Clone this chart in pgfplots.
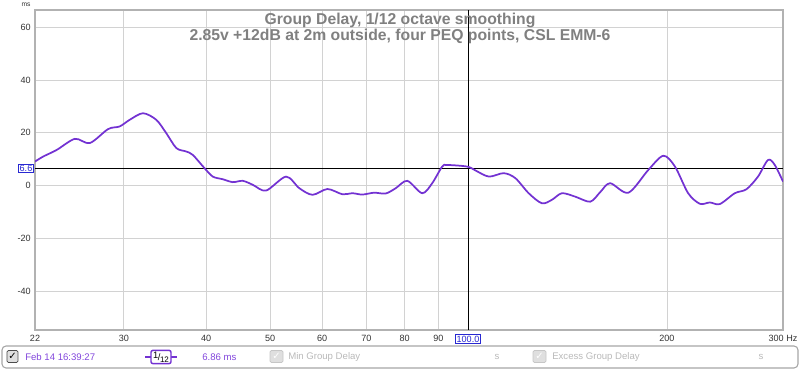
\documentclass[border=0pt]{standalone}
\usepackage{pgfplots}
\pgfplotsset{compat=1.18}
\usepackage{fontspec}
\setmainfont{Liberation Sans}
\newfontfamily\dejavu{DejaVu Sans}
\definecolor{gd}{RGB}{115,50,210}
\definecolor{legpurple}{RGB}{130,70,220}
\definecolor{curblue}{RGB}{40,40,210}
\definecolor{titlegray}{RGB}{128,128,128}
\begin{document}
\begin{tikzpicture}
\path[use as bounding box] (-26.25pt,-30pt) rectangle (573.75pt,247.5pt);
\begin{axis}[
  at={(0,0)}, anchor=south west,
  width=561pt, height=240pt, scale only axis,
  xmode=log, xmin=22, xmax=300, ymin=-54.7, ymax=66.5,
  xtick={22,30,40,50,60,70,80,90,200,300},
  xticklabels={22,30,40,50,60,70,80,90,200,300 Hz},
  minor xtick={},
  ytick={-40,-20,0,20,40,60},
  yticklabels={-40,-20,0,20,40,60},
  grid=major,
  major grid style={draw=gray!35, line width=0.6pt},
  tick style={draw=none},
  axis line style={draw=gray!60, line width=1pt},
  ticklabel style={font=\fontsize{6.8}{7}\selectfont, text=black!80},
  xticklabel style={inner sep=0pt, yshift=-4pt},
  yticklabel style={inner sep=0pt, xshift=-3pt},
]
\draw[black, line width=0.6pt] (axis cs:100,-54.7) -- (axis cs:100,66.5);
\draw[black, line width=0.6pt] (axis cs:22,6.6) -- (axis cs:300,6.6);
\addplot[gd, line width=1.3pt, smooth, no marks] coordinates {
(22,9.1) (22.64,11.0) (23.73,13.5) (25.29,17.7) (26.64,16.1) (28.40,21.4)
(29.57,22.4) (30.62,24.9) (32.08,27.4) (33.61,24.9) (34.81,19.8) (36.05,14.2)
(37.32,12.9) (38.19,11.6) (39.77,6.6) (40.94,3.4) (42.39,2.4) (43.90,1.3)
(45.45,1.8) (47.07,0.3) (49.31,-1.9) (52.87,3.4) (55.38,-1.0) (58.00,-3.5)
(61.11,-1.3) (64.39,-3.3) (66.67,-2.9) (69.04,-3.4) (71.91,-2.7) (74.90,-3.0)
(77.56,-1.0) (80.76,1.8) (85.08,-2.9) (88.10,0.9) (91.22,7.2) (92.83,7.8)
(99.53,7.2) (102.5,5.7) (107.4,3.4) (113.1,4.7) (117.8,2.8) (123.4,-2.9)
(129.2,-6.7) (133.8,-5.4) (138.6,-2.9) (145.2,-4.2) (153.0,-6.1) (158.4,-2.5)
(164.0,0.9) (174.8,-2.7) (187.4,5.9) (197.5,11.3) (205.7,7.2) (215.4,-2.9)
(224.4,-6.9) (232.3,-6.4) (240.6,-7.0) (253.5,-2.9) (264.0,-1.4) (274.9,3.4)
(284.7,9.7) (291.5,7.8) (300,1.5)
};
\end{axis}
\begin{scope}[x=0.75pt, y=-0.75pt, shift={(-26.25pt,247.5pt)}]
\node[text=titlegray, font=\bfseries\fontsize{11.8}{13}\selectfont] at (400,20) {Group Delay, 1/12 octave smoothing};
\node[text=titlegray, font=\bfseries\fontsize{11.8}{13}\selectfont] at (400,36.5) {2.85v +12dB at 2m outside, four PEQ points, CSL EMM-6};
\node[font=\fontsize{5}{6}\selectfont, text=black!80] at (26,4.5) {ms};
\node[draw=curblue, text=curblue, fill=white, inner sep=0.8pt, line width=0.5pt, font=\fontsize{6.8}{7}\selectfont] at (26,168.5) {6.6};
\node[draw=curblue, text=curblue, fill=white, inner sep=0.8pt, line width=0.5pt, font=\fontsize{6.8}{7}\selectfont] at (468,339) {100.0};
% legend bar
\draw[gray!70, rounded corners=3pt, line width=0.8pt] (2,346) rectangle (798,368);
\draw[rounded corners=1pt, fill=gray!25, draw=black!70, line width=0.6pt] (7,350.5) rectangle (18,362.5);
\node[font=\dejavu\fontsize{7.5}{8}\selectfont, text=black] at (12.5,356.5) {✓};
\node[anchor=west, inner sep=0pt, text=legpurple, font=\fontsize{7.2}{8}\selectfont] at (25,357) {Feb 14 16:39:27};
\draw[gd, line width=1.2pt] (145,357) -- (177,357);
\node[draw=gd, fill=white, line width=1.1pt, rounded corners=1.5pt, inner sep=0.6pt, minimum width=15pt, minimum height=10pt, font=\fontsize{7}{7}\selectfont] at (161,357) {\raisebox{1.5pt}{1}\kern-0.3pt/\kern-0.3pt\raisebox{-1.2pt}{\fontsize{6}{6}\selectfont 12}};
\node[anchor=west, inner sep=0pt, text=legpurple, font=\fontsize{7.2}{8}\selectfont] at (202,357) {6.86 ms};
\draw[rounded corners=1pt, fill=gray!25, draw=gray!45, line width=0.6pt] (270,350.5) rectangle (283,362.5);
\node[font=\dejavu\fontsize{7.5}{8}\selectfont, text=white] at (276.5,356.5) {✓};
\node[anchor=west, inner sep=0pt, text=gray!55, font=\fontsize{7.2}{8}\selectfont] at (288,357) {Min Group Delay};
\node[inner sep=0pt, text=gray!55, font=\fontsize{7.2}{8}\selectfont] at (497,357) {s};
\draw[rounded corners=1pt, fill=gray!25, draw=gray!45, line width=0.6pt] (533,350.5) rectangle (546,362.5);
\node[font=\dejavu\fontsize{7.5}{8}\selectfont, text=white] at (539.5,356.5) {✓};
\node[anchor=west, inner sep=0pt, text=gray!55, font=\fontsize{7.2}{8}\selectfont] at (552,357) {Excess Group Delay};
\node[inner sep=0pt, text=gray!55, font=\fontsize{7.2}{8}\selectfont] at (761,357) {s};
\end{scope}
\end{tikzpicture}
\end{document}
